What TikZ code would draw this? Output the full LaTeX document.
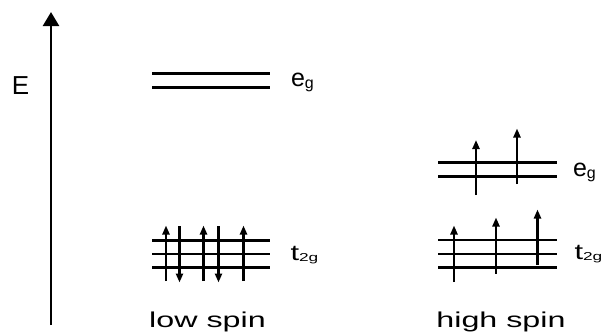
\documentclass[tikz,border=0pt]{standalone}
\usepackage{fontspec}
\setmainfont{Liberation Sans}
\usetikzlibrary{arrows.meta}
\tikzset{
  level/.style={line width=2.4pt},
  spin/.style={line width=2.2pt, -{Triangle[width=7pt,length=9pt]}},
  axis/.style={line width=2.4pt, -{Triangle[width=16pt,length=14pt]}},
  lbl/.style={anchor=base west, inner sep=0pt, outer sep=0pt},
  captext/.style={anchor=base, inner sep=0pt, outer sep=0pt}
}
\newcommand{\egtext}{{\fontsize{25}{25}\selectfont e}\raisebox{-2pt}{\fontsize{16}{16}\selectfont g}}
\newcommand{\ttgtext}{\scalebox{1.4}[1]{\fontsize{22}{22}\selectfont t}\raisebox{-0.5pt}{\scalebox{1.5}[1]{\fontsize{11.5}{12}\selectfont 2g}}}
\begin{document}
\begin{tikzpicture}[x=1pt,y=-1pt]
\useasboundingbox (0,0) rectangle (608,335);
% energy axis
\coordinate (axb) at (51,325);
\coordinate (axt) at (51,12);
\draw[axis] (axb) -- (axt);
\node[lbl] (E) at (12,94) {\fontsize{26}{26}\selectfont E};
% low spin e_g
\draw[level] (152,73.5) -- (270,73.5);
\draw[level] (152,87.5) -- (270,87.5);
\node[lbl] (egL) at (291,86.5) {\egtext};
% low spin t2g
\draw[level] (152,240.5) -- (270,240.5);
\draw[level] (152,254) -- (270,254);
\draw[level] (152,267.5) -- (270,267.5);
\node[lbl] (tL) at (290.5,260.7) {\ttgtext};
\draw[spin] (166,281) -- (166,225.5);
\draw[spin] (179.5,226) -- (179.5,282.5);
\draw[spin] (203.5,281) -- (203.5,225.5);
\draw[spin] (218.5,226) -- (218.5,282.5);
\draw[spin] (243.5,281) -- (243.5,225.5);
% high spin e_g
\draw[level] (438,162.5) -- (557,162.5);
\draw[level] (438,176.5) -- (557,176.5);
\node[lbl] (egH) at (573,176.3) {\egtext};
\draw[spin] (476,195) -- (476,140);
\draw[spin] (517,184) -- (517,128.5);
% high spin t2g
\draw[level] (438,240) -- (557,240);
\draw[level] (438,254) -- (557,254);
\draw[level] (438,267.5) -- (557,267.5);
\node[lbl] (tH) at (574.5,259.5) {\ttgtext};
\draw[spin] (454,282) -- (454,225.5);
\draw[spin] (496,273.5) -- (496,217.5);
\draw[spin] (537.5,265) -- (537.5,209.5);
% captions
\node[captext] (low) at (207.5,327.3) {\scalebox{1.5}[1]{\fontsize{21.5}{22}\selectfont low spin}};
\node[captext] (high) at (501,327.3) {\scalebox{1.5}[1]{\fontsize{21.5}{22}\selectfont high spin}};
\end{tikzpicture}
\end{document}
